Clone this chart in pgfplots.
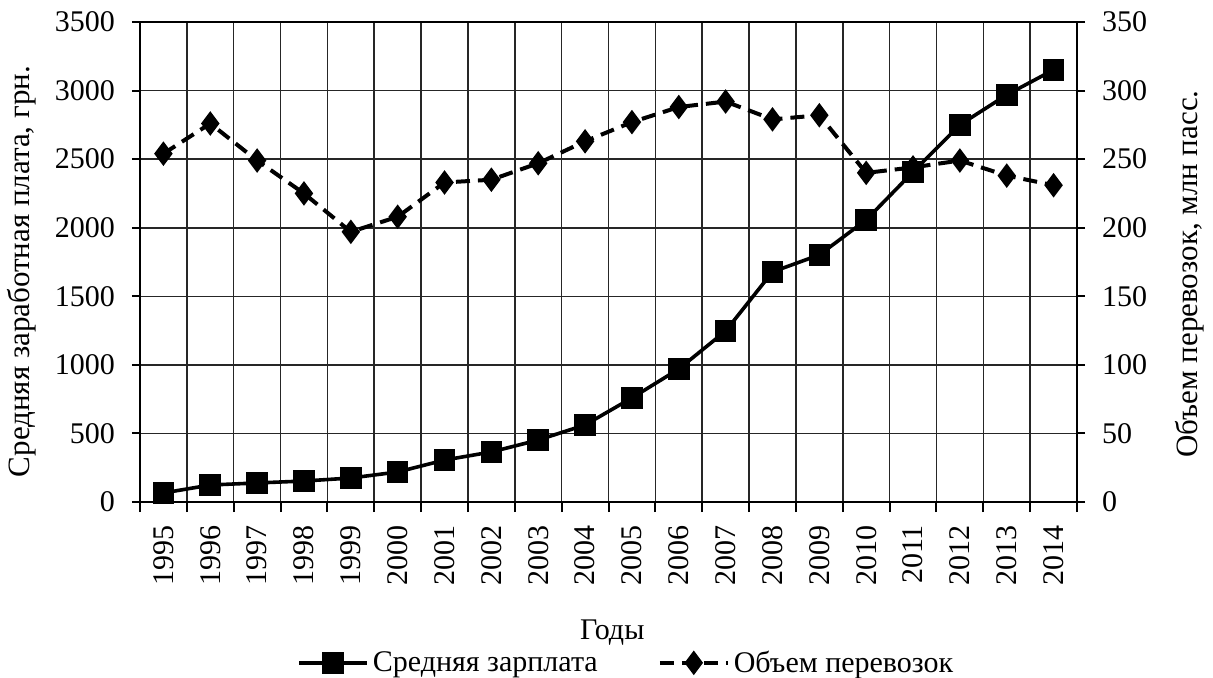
\documentclass[border=0pt]{standalone}
\usepackage{fontspec}
\setmainfont{Liberation Serif}
\usepackage{pgfplots}
\pgfplotsset{compat=1.18}
\pgfplotstableread{
x wage
0 66
1 124
2 139
3 153
4 175
5 219
6 306
7 365
8 452
9 562
10 759
11 970
12 1247
13 1678
14 1802
15 2057
16 2407
17 2750
18 2969
19 3151
}\wagedata
\pgfplotstableread{
x vol
0 254
1 276
2 249
3 225
4 197
5 208
6 233
7 235
8 247
9 263
10 277
11 288
12 292
13 279
14 282
15 240
16 244
17 249
18 238
19 231
}\voldata
\begin{document}
\begin{tikzpicture}[font=\fontsize{15}{17}\selectfont]
\useasboundingbox (-70pt,-87.5pt) rectangle (536.5pt,251pt);
\pgfplotsset{
  common/.style={
    scale only axis, width=468.5pt, height=240pt,
    at={(0pt,0pt)}, anchor=south west,
    xmin=-0.5, xmax=19.5, ymin=0,
    /pgf/number format/assume math mode=true,
    /pgf/number format/set thousands separator={},
    tick align=outside,
    major tick length=4pt, minor tick length=5pt,
    tick style={black, line width=1pt},
    legend image code/.code={\draw[mark repeat=2,mark phase=2,##1] plot coordinates {(0pt,0pt) (17pt,0pt) (34pt,0pt)};},
  },
  wagestyle/.style={black, line width=1.8pt, mark=square*, mark size=4.5pt, mark options={solid}},
  volstyle/.style={black, line width=2pt, dash pattern=on 7pt off 4pt, mark=diamond*, mark size=4.5pt, mark options={solid}},
}
\begin{axis}[common,
  ymax=3500, ytick={0,500,...,3500},
  xtick={0,...,19},
  xticklabels={1995,1996,1997,1998,1999,2000,2001,2002,2003,2004,2005,2006,2007,2008,2009,2010,2011,2012,2013,2014},
  major x tick style={draw=none},
  minor xtick={-0.5,0.5,...,19.5},
  xminorgrids=true, ymajorgrids=true,
  grid style={black!85, line width=0.8pt},
  minor grid style={black!85, line width=0.8pt},
  xtick pos=bottom, ytick pos=left,
  xticklabel style={rotate=90, anchor=east},
  xticklabel shift=4pt,
  yticklabel shift=5pt,
  axis line style={black, line width=1.2pt},
  xlabel={Годы},
  xlabel style={at={(axis description cs:0.504,-0.273)}, anchor=center},
  ylabel={Средняя заработная плата, грн.},
  ylabel style={at={(axis description cs:-0.126,0.48)}, anchor=center, font=\fontsize{15.5}{17}\selectfont},
]
\addplot[wagestyle] table[x=x,y=wage]{\wagedata};
\end{axis}
\begin{axis}[common,
  ymax=350, ytick={0,50,...,350},
  axis x line=none, axis y line*=right,
  axis line style={black, line width=1.2pt},
  yticklabel shift=5pt,
  ylabel={Объем перевозок, млн пасс.},
  ylabel style={at={(axis description cs:1.1206,0.475)}, anchor=center, rotate=0, font=\fontsize{15.5}{17}\selectfont},
  legend columns=2,
  legend style={at={(axis description cs:0.52,-0.335)}, anchor=center, draw=none, fill=none,
    /tikz/every even column/.append style={column sep=28pt}, font=\fontsize{15}{17}\selectfont},
]
\addlegendimage{wagestyle}
\addlegendentry{Средняя зарплата}
\addplot[volstyle] table[x=x,y=vol]{\voldata};
\addlegendentry{Объем перевозок}
\end{axis}
\end{tikzpicture}
\end{document}
